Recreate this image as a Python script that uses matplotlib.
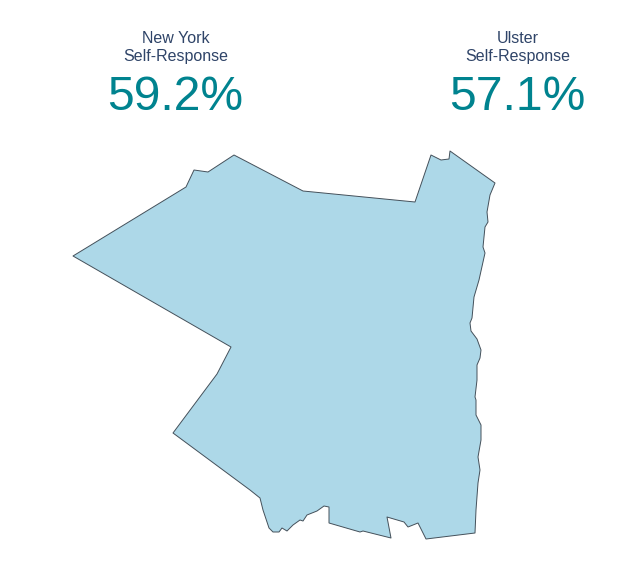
import matplotlib
matplotlib.use("Agg")
import matplotlib.pyplot as plt

plt.rcParams['font.family'] = ['Liberation Sans', 'DejaVu Sans']

county_x = [73,186,194,208,234,303,415,431,441,449,450,495,490,487,488,485,483,485,479,474,472,470,471,477,481,480,477,477,475,476,476,481,481,478,480,478,476,475,426,418,408,404,387,391,363,360,329,329,324,317,307,303,300,293,287,282,279,273,269,263,260,250,173,217,231]
county_y = [256,187,170,172,155,191,202,155,160,159,151,183,195,212,222,227,247,253,280,297,318,323,331,339,350,358,365,380,397,400,415,425,440,457,470,483,510,533,539,523,527,522,517,538,531,532,523,507,506,511,515,521,520,525,531,528,532,532,528,510,498,490,433,374,347]

labels = ["New York\nSelf-Response", "Ulster\nSelf-Response"]
values = ["59.2%", "57.1%"]
label_x = [176, 518]

fig = plt.figure(figsize=(6.39, 5.61), dpi=100, facecolor="white")
ax = fig.add_axes([0, 0, 1, 1])
ax.set_xlim(0, 639)
ax.set_ylim(561, 0)
ax.axis("off")

ax.fill(county_x, county_y, facecolor="#ADD8E8", edgecolor="#44505a", linewidth=0.7, joinstyle="round")

for x, lab, val in zip(label_x, labels, values):
    ax.text(x, 47.5, lab, ha="center", va="center", fontsize=11.5, color="#2F4468", linespacing=1.3)
    ax.text(x - 0.5, 97, val, ha="center", va="center", fontsize=34.6, color="#00838F")

fig.savefig("out.png", dpi=100, facecolor="white")
